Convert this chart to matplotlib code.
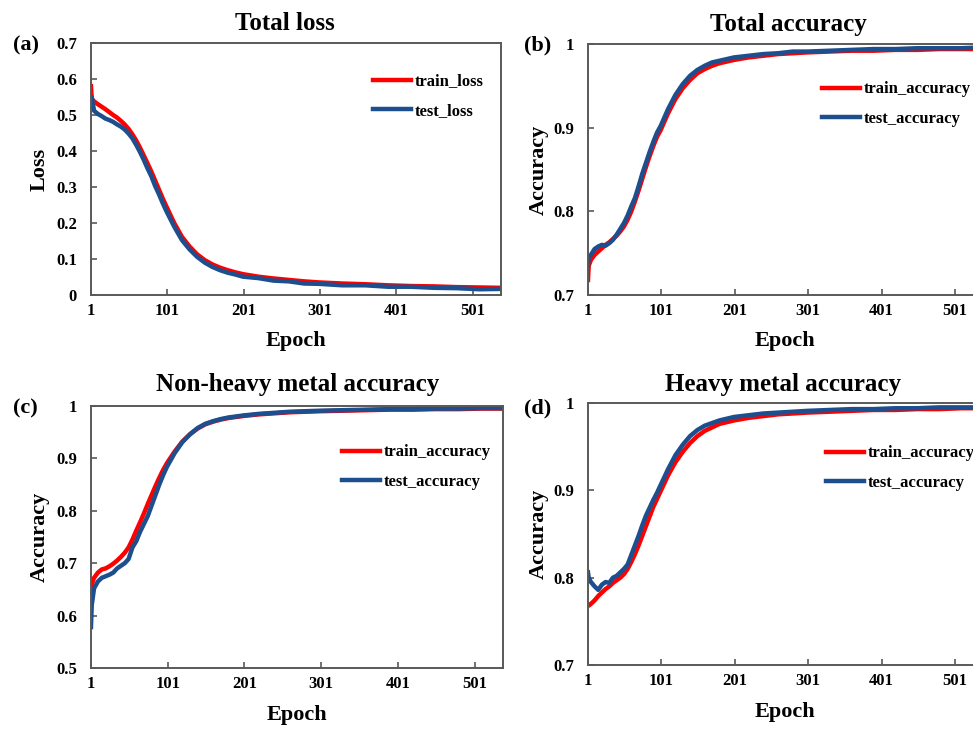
import matplotlib
matplotlib.use('Agg')
import matplotlib.pyplot as plt
from matplotlib.ticker import FixedLocator, FuncFormatter

plt.rcParams['font.family'] = ['Liberation Serif', 'DejaVu Serif']
plt.rcParams['font.weight'] = 'bold'

epochs = [1, 2, 5, 10, 15, 20, 25, 30, 35, 40, 45, 50, 55, 60, 65, 70, 75, 80, 85, 90, 95, 100,
          110, 120, 130, 140, 150, 160, 170, 180, 190, 200,
          220, 240, 260, 280, 300, 330, 360, 390, 420, 450, 480, 510, 538]

# (a) total loss
train_loss = [0.580, 0.545, 0.538, 0.530, 0.523, 0.516, 0.508, 0.500, 0.493, 0.484, 0.474, 0.462,
              0.447, 0.430, 0.410, 0.388, 0.366, 0.343, 0.318, 0.293, 0.268, 0.245,
              0.200, 0.162, 0.135, 0.113, 0.097, 0.085, 0.076, 0.069, 0.063, 0.058,
              0.051, 0.046, 0.042, 0.038, 0.035, 0.032, 0.030, 0.027, 0.025, 0.024, 0.022, 0.021, 0.020]
test_loss = [0.520, 0.550, 0.512, 0.503, 0.497, 0.490, 0.486, 0.481, 0.474, 0.468, 0.460, 0.449,
             0.436, 0.418, 0.398, 0.376, 0.352, 0.330, 0.303, 0.280, 0.255, 0.232,
             0.190, 0.153, 0.127, 0.106, 0.090, 0.078, 0.069, 0.062, 0.057, 0.051,
             0.047, 0.040, 0.038, 0.032, 0.031, 0.027, 0.027, 0.023, 0.023, 0.020, 0.019, 0.016, 0.017]

# (b) total accuracy
train_total = [0.718, 0.735, 0.742, 0.748, 0.752, 0.756, 0.760, 0.763, 0.767, 0.771, 0.776, 0.782,
               0.790, 0.800, 0.812, 0.825, 0.839, 0.853, 0.866, 0.878, 0.889, 0.897,
               0.917, 0.934, 0.947, 0.957, 0.965, 0.970, 0.974, 0.977, 0.979, 0.981,
               0.984, 0.986, 0.988, 0.989, 0.990, 0.991, 0.992, 0.992, 0.993, 0.993, 0.994, 0.994, 0.994]
test_total = [0.735, 0.745, 0.748, 0.755, 0.758, 0.760, 0.759, 0.762, 0.766, 0.772, 0.779, 0.786,
              0.795, 0.806, 0.816, 0.830, 0.845, 0.858, 0.871, 0.883, 0.894, 0.902,
              0.922, 0.939, 0.952, 0.962, 0.969, 0.974, 0.978, 0.980, 0.982, 0.984,
              0.986, 0.988, 0.989, 0.991, 0.991, 0.992, 0.993, 0.994, 0.994, 0.995, 0.995, 0.995, 0.996]

# (c) non-heavy metal accuracy
train_non = [0.643, 0.660, 0.672, 0.682, 0.688, 0.690, 0.694, 0.699, 0.705, 0.712, 0.720, 0.730,
             0.745, 0.762, 0.778, 0.795, 0.813, 0.830, 0.847, 0.863, 0.878, 0.891,
             0.913, 0.932, 0.946, 0.957, 0.965, 0.970, 0.974, 0.977, 0.979, 0.981,
             0.984, 0.986, 0.988, 0.989, 0.990, 0.991, 0.992, 0.993, 0.993, 0.994, 0.994, 0.995, 0.995]
test_non = [0.578, 0.620, 0.652, 0.665, 0.672, 0.675, 0.678, 0.682, 0.690, 0.695, 0.700, 0.708,
            0.730, 0.742, 0.760, 0.775, 0.790, 0.810, 0.830, 0.850, 0.868, 0.884,
            0.910, 0.931, 0.946, 0.958, 0.966, 0.971, 0.975, 0.978, 0.980, 0.982,
            0.985, 0.987, 0.989, 0.990, 0.991, 0.992, 0.993, 0.994, 0.994, 0.995, 0.995, 0.996, 0.996]

# (d) heavy metal accuracy
train_heavy = [0.769, 0.768, 0.770, 0.774, 0.779, 0.783, 0.787, 0.790, 0.794, 0.797, 0.800, 0.804,
               0.810, 0.818, 0.827, 0.837, 0.848, 0.859, 0.870, 0.881, 0.890, 0.899,
               0.917, 0.932, 0.944, 0.954, 0.962, 0.968, 0.972, 0.976, 0.978, 0.980,
               0.983, 0.985, 0.987, 0.988, 0.989, 0.990, 0.991, 0.992, 0.992, 0.993, 0.993, 0.994, 0.994]
test_heavy = [0.806, 0.800, 0.795, 0.790, 0.786, 0.792, 0.795, 0.794, 0.800, 0.802, 0.806, 0.810,
              0.815, 0.826, 0.837, 0.848, 0.860, 0.871, 0.880, 0.889, 0.897, 0.906,
              0.924, 0.940, 0.952, 0.962, 0.969, 0.974, 0.977, 0.980, 0.982, 0.984,
              0.986, 0.988, 0.989, 0.990, 0.991, 0.992, 0.993, 0.993, 0.994, 0.994, 0.995, 0.995, 0.995]

epoch_ticks = [1, 101, 201, 301, 401, 501]

RED = '#ff0000'
BLUE = '#1d4f8f'
FRAME = '#595959'

fig = plt.figure(figsize=(9.73, 7.29), dpi=100)


def panel(rect, train, test, labels, yticks, ylabel, leg_xy):
    ax = fig.add_axes(rect)
    ax.plot(epochs, train, color=RED, lw=3.2, label=labels[0])
    ax.plot(epochs, test, color=BLUE, lw=3.2, label=labels[1])
    ax.set_xlim(1, 538)
    ax.set_ylim(yticks[0], yticks[-1])
    ax.xaxis.set_major_locator(FixedLocator(epoch_ticks))
    ax.yaxis.set_major_locator(FixedLocator(yticks))
    ax.yaxis.set_major_formatter(FuncFormatter(lambda v, p: '%g' % round(v, 2)))
    for s in ax.spines.values():
        s.set_color(FRAME)
        s.set_linewidth(1.4)
    ax.tick_params(axis='both', direction='in', length=4, width=1.2, color=FRAME, labelsize=12)
    ax.tick_params(axis='y', pad=10)
    ax.tick_params(axis='x', pad=6)
    ax.set_xlabel('Epoch', fontsize=16, fontweight='bold')
    ax.set_ylabel(ylabel, fontsize=16, fontweight='bold')
    ax.yaxis.set_label_coords(-0.10, 0.5)
    ax.xaxis.set_label_coords(0.5, -0.142)
    ax.legend(loc='upper left', bbox_to_anchor=leg_xy, frameon=False, fontsize=12,
              handlelength=2.3, handletextpad=0.2, labelspacing=0.8, borderpad=0, borderaxespad=0)
    return ax


panel([0.0935, 0.5953, 0.4215, 0.3457], train_loss, test_loss, ['train_loss', 'test_loss'],
      [0, 0.1, 0.2, 0.3, 0.4, 0.5, 0.6, 0.7], 'Loss', (0.688, 0.879))
panel([0.6043, 0.5953, 0.405, 0.3443], train_total, test_total, ['train_accuracy', 'test_accuracy'],
      [0.7, 0.8, 0.9, 1.0], 'Accuracy', (0.594, 0.851))
panel([0.0935, 0.0837, 0.4236, 0.3594], train_non, test_non, ['train_accuracy', 'test_accuracy'],
      [0.5, 0.6, 0.7, 0.8, 0.9, 1.0], 'Accuracy', (0.609, 0.853))
panel([0.6043, 0.0878, 0.405, 0.3594], train_heavy, test_heavy, ['train_accuracy', 'test_accuracy'],
      [0.7, 0.8, 0.9, 1.0], 'Accuracy', (0.604, 0.838))

titles = [('Total loss', 285, 24), ('Total accuracy', 788, 24),
          ('Non-heavy metal accuracy', 298, 385), ('Heavy metal accuracy', 783, 385)]
for t, x, y in titles:
    fig.text(x / 973, 1 - y / 729, t, ha='center', va='center', fontsize=18, fontweight='bold')

letters = [('(a)', 26, 45), ('(b)', 538, 45), ('(c)', 25, 408), ('(d)', 538, 408)]
for t, x, y in letters:
    fig.text(x / 973, 1 - y / 729, t, ha='center', va='center', fontsize=16, fontweight='bold')

plt.savefig('out.png', dpi=100)
